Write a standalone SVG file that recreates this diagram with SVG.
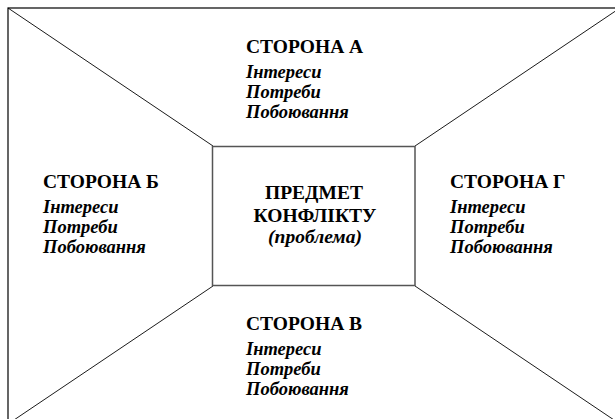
<svg xmlns="http://www.w3.org/2000/svg" width="615" height="419" viewBox="0 0 615 419">
<style>
.frame{fill:none;stroke:#000;stroke-width:1.2}
.diag{stroke:#000;stroke-width:0.9;fill:none}
.inner{fill:#fff;stroke:#555;stroke-width:1.5}
.h{font-family:"Liberation Serif","Times New Roman",serif;font-weight:bold;font-size:19.5px;fill:#000}
.i{font-family:"Liberation Serif","Times New Roman",serif;font-weight:bold;font-style:italic;font-size:18.5px;fill:#000}
</style>
<rect width="615" height="419" fill="#fff"/>
<g id="connectors">
<rect class="frame" x="8" y="8" width="612" height="416"/>
<line class="diag" x1="8" y1="8" x2="213" y2="146"/>
<line class="diag" x1="620" y1="8" x2="415" y2="146"/>
<line class="diag" x1="8" y1="424" x2="213" y2="286"/>
<line class="diag" x1="620" y1="424" x2="415" y2="286"/>
</g>
<g id="center">
<rect class="inner" x="212.5" y="146.5" width="202.5" height="139"/>
<text class="h" x="314" y="199" text-anchor="middle">ПРЕДМЕТ</text>
<text class="h" x="315" y="222" text-anchor="middle">КОНФЛІКТУ</text>
<text class="i" x="315" y="243" text-anchor="middle" style="font-size:19.5px">(проблема)</text>
</g>
<g id="side-a">
<text class="h" x="246" y="53">СТОРОНА А</text>
<text class="i" x="246" y="78">Інтереси</text>
<text class="i" x="246" y="98">Потреби</text>
<text class="i" x="246" y="118">Побоювання</text>
</g>
<g id="side-b">
<text class="h" x="43" y="188">СТОРОНА Б</text>
<text class="i" x="43" y="213">Інтереси</text>
<text class="i" x="43" y="233">Потреби</text>
<text class="i" x="43" y="253">Побоювання</text>
</g>
<g id="side-g">
<text class="h" x="450" y="188">СТОРОНА Г</text>
<text class="i" x="450" y="213">Інтереси</text>
<text class="i" x="450" y="233">Потреби</text>
<text class="i" x="450" y="253">Побоювання</text>
</g>
<g id="side-v">
<text class="h" x="246" y="330">СТОРОНА В</text>
<text class="i" x="246" y="355">Інтереси</text>
<text class="i" x="246" y="375">Потреби</text>
<text class="i" x="246" y="395">Побоювання</text>
</g>
</svg>
